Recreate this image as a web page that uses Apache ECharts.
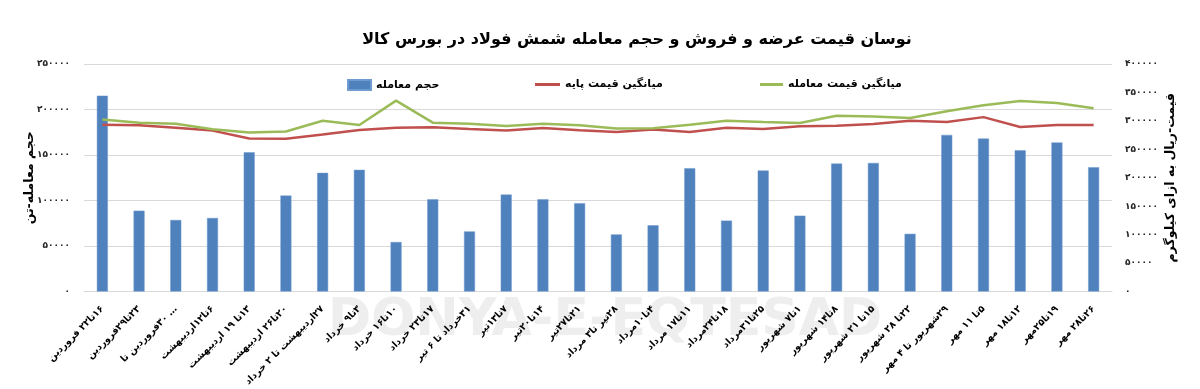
<!DOCTYPE html>
<html>
<head>
<meta charset="utf-8">
<script src="https://cdn.jsdelivr.net/npm/echarts@6/dist/echarts.min.js"></script>
<style>
html,body{margin:0;padding:0;background:#fff;}
#c{width:1200px;height:389px;}
</style>
</head>
<body>
<div id="c"></div>
<script>
const titleText = 'نوسان قیمت عرضه و فروش و حجم معامله شمش فولاد در بورس کالا';
const categories = [
  '۱۶تا۲۲ فروردین', '۲۳تا۲۹فروردین', '۳۰فروردین تا …', '۶تا۱۲اردیبهشت',
  '۱۳تا ۱۹ اردیبهشت', '۲۰تا۲۶ اردیبهشت', '۲۷اردیبهشت تا ۲ خرداد', '۳تا۹ خرداد',
  '۱۰تا۱۶ خرداد', '۱۷تا۲۳ خرداد', '۳۱خرداد تا ۶ تیر', '۷تا۱۳تیر',
  '۱۴تا۲۰تیر', '۲۱تا۲۷تیر', '۲۸تیر تا۳ مرداد', '۴تا۱۰مرداد',
  '۱۱تا۱۷ مرداد', '۱۸تا۲۴مرداد', '۲۵تا۳۱مرداد', '۱تا۷ شهریور',
  '۸تا۱۴ شهریور', '۱۵تا ۲۱ شهریور', '۲۲تا ۲۸ شهریور', '۲۹شهریور تا ۴ مهر',
  '۵تا ۱۱ مهر', '۱۲تا۱۸ مهر', '۱۹تا۲۵مهر', '۲۶تا۲۸ مهر'
];
const volumeName = 'حجم معامله';
const baseName = 'میانگین قیمت پایه';
const tradeName = 'میانگین قیمت معامله';
const volume = [
  215200, 88800, 78600, 80800, 152900, 105400, 130400, 133700,
  54400, 101400, 66000, 106500, 101400, 97100, 62700, 72800,
  135500, 77900, 133000, 83300, 140600, 141300, 63400, 172100,
  168100, 155100, 163800, 136600
];
const basePrice = [
  293300, 292200, 288100, 282900, 269000, 268400, 276000, 284000,
  288100, 288700, 285700, 282900, 287500, 283500, 280500, 284700,
  280500, 288100, 285700, 290400, 291600, 294400, 300300, 297900,
  306600, 289200, 292700, 292700
];
const tradePrice = [
  302600, 296800, 295100, 285200, 279400, 281200, 300300, 292700,
  335600, 296800, 294800, 290900, 295100, 292200, 286400, 287000,
  293300, 300300, 298200, 296200, 309000, 307800, 304900, 317100,
  327500, 335100, 331600, 322300
];
const leftAxisName = 'حجم معامله-تن';
const rightAxisName = 'قیمت-ریال به ازای کیلوگرم';
const watermarkText = 'DONYA-E-EQTESAD';

const RLM = '\u200F';
const fa = v => String(v).replace(/\d/g, d => '۰۱۲۳۴۵۶۷۸۹'[d]);
const FONT = '"DejaVu Sans", sans-serif';

const chart = echarts.init(document.getElementById('c'), null, {renderer: 'canvas'});
const legendText = {fontFamily: FONT, fontWeight: 'bold', fontSize: 11, color: '#000'};
chart.setOption({
  animation: false,
  backgroundColor: '#fff',
  title: {
    text: titleText,
    left: 632, top: 27, textAlign: 'center',
    textStyle: {fontFamily: FONT, fontWeight: 'bold', fontSize: 16, color: '#000'}
  },
  legend: [
    {data: [{name: volumeName, icon: 'rect'}], left: 342, top: 74, itemWidth: 23, itemHeight: 10, itemGap: 4, textStyle: legendText, selectedMode: false, formatter: n => RLM + n},
    {data: [{name: baseName, icon: 'rect'}], left: 530, top: 74, itemWidth: 25, itemHeight: 3, textStyle: legendText, selectedMode: false, formatter: n => RLM + n},
    {data: [{name: tradeName, icon: 'rect'}], left: 755, top: 74, itemWidth: 23, itemHeight: 3, textStyle: legendText, selectedMode: false, formatter: n => RLM + n}
  ],
  graphic: [{
    type: 'text', left: 328, top: 295, z: -10, silent: true,
    style: {text: watermarkText, font: 'bold 52px ' + FONT, fill: '#eeeeee'}
  }],
  grid: {left: 84, right: 88, top: 64, bottom: 95},
  xAxis: {
    type: 'category',
    data: categories.map(c => RLM + c),
    axisLine: {lineStyle: {color: '#d9d9d9', width: 1}},
    axisTick: {show: false},
    axisLabel: {
      interval: 0, rotate: 45, margin: 16,
      fontFamily: FONT, fontWeight: 'bold', fontSize: 9.5, color: '#000'
    }
  },
  yAxis: [
    {
      type: 'value', min: 0, max: 250000, interval: 50000,
      name: leftAxisName, nameLocation: 'middle', nameRotate: 90, nameGap: 48, nameMoveOverlap: false,
      nameTextStyle: {fontFamily: FONT, fontWeight: 'bold', fontSize: 12.5, color: '#000'},
      axisLine: {show: false}, axisTick: {show: false},
      splitLine: {lineStyle: {color: '#d9d9d9', width: 1}},
      axisLabel: {margin: 14, formatter: v => fa(v), fontFamily: FONT, fontWeight: 'bold', fontSize: 9, color: '#222'}
    },
    {
      type: 'value', min: 0, max: 400000, interval: 50000, position: 'right',
      name: rightAxisName, nameLocation: 'middle', nameRotate: 90, nameGap: 52, nameMoveOverlap: false,
      nameTextStyle: {fontFamily: FONT, fontWeight: 'bold', fontSize: 12.5, color: '#000'},
      axisLine: {show: false}, axisTick: {show: false},
      splitLine: {show: false},
      axisLabel: {margin: 13, formatter: v => fa(v), fontFamily: FONT, fontWeight: 'bold', fontSize: 9, color: '#222'}
    }
  ],
  series: [
    {
      name: volumeName, type: 'bar', yAxisIndex: 0, data: volume, barWidth: 11,
      itemStyle: {color: '#4f81bd', borderColor: '#6f9bd0', borderWidth: 0.5}
    },
    {
      name: baseName, type: 'line', yAxisIndex: 1, data: basePrice,
      symbol: 'none', lineStyle: {color: '#c0504d', width: 2.5}, itemStyle: {color: '#c0504d'}
    },
    {
      name: tradeName, type: 'line', yAxisIndex: 1, data: tradePrice,
      symbol: 'none', lineStyle: {color: '#9bbb59', width: 2.5}, itemStyle: {color: '#9bbb59'}
    }
  ]
});
</script>
</body>
</html>
